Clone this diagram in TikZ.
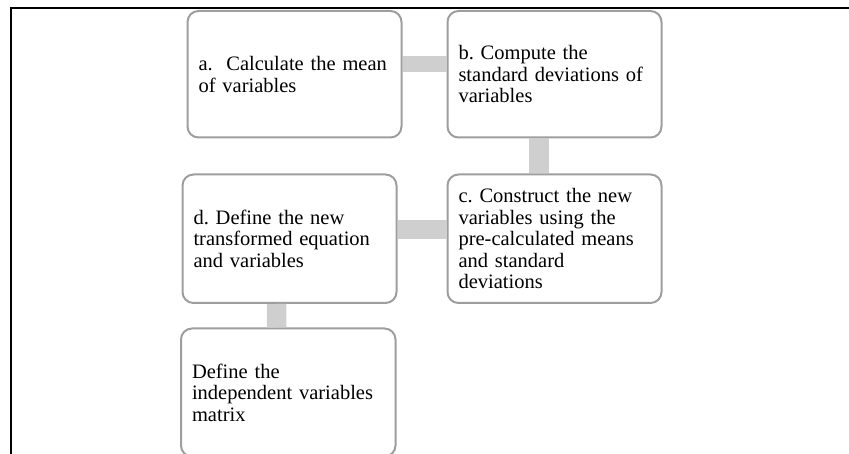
\documentclass[tikz,border=0pt]{standalone}
\usepackage{fontspec}
\setmainfont{Liberation Serif}
\begin{document}
\frenchspacing
\begin{tikzpicture}[x=1pt,y=-1pt,
  stepbox/.style={draw=boxgray, line width=2pt, rounded corners=11pt,
    fill=white, anchor=north west, inner xsep=11pt, inner ysep=0pt,
    align=left, font=\fontsize{20.5pt}{21.5pt}\selectfont},
  conn/.style={draw=conngray},
  frame/.style={draw=black, line width=2pt}]
\definecolor{boxgray}{HTML}{9E9E9E}
\definecolor{conngray}{HTML}{CFCFCF}
\useasboundingbox (0,0) rectangle (849,454);
\clip (0,0) rectangle (849,454);

% outer frame: top and left edges only
\draw[frame] (849,8) -- (11,8) -- (11,455);

% process steps
\node[stepbox, minimum width=214pt, minimum height=126.5pt, text width=192pt] (a) at (186.5,10)
  {a.\ \ Calculate the mean\\of variables};
\node[stepbox, minimum width=214pt, minimum height=126.5pt, text width=192pt] (b) at (446.5,10)
  {b. Compute the\\standard deviations of\\variables};
\node[stepbox, minimum width=214pt, minimum height=128.5pt, text width=192pt] (c) at (446.5,173.5)
  {c. Construct the new\\variables using the\\pre-calculated means\\and standard\\deviations};
\node[stepbox, minimum width=214pt, minimum height=128.5pt, text width=192pt] (d) at (181.5,173.5)
  {d. Define the new\\transformed equation\\and variables};
\node[stepbox, minimum width=214.5pt, minimum height=128pt, text width=192.5pt] (e) at (180,327.5)
  {Define the\\independent variables\\matrix};

% connecting bands
\draw[conn, line width=16pt] ([yshift=10.3pt]a.east) -- ([yshift=10.3pt]b.west);
\draw[conn, line width=19.5pt] ([xshift=-15.5pt]b.south) -- ([xshift=-15.5pt]c.north);
\draw[conn, line width=19pt] ([yshift=9pt]d.east) -- ([yshift=9pt]c.west);
\draw[conn, line width=19.5pt] ([xshift=-12.8pt]d.south) -- ([xshift=-11.5pt]e.north);
\end{tikzpicture}
\end{document}
